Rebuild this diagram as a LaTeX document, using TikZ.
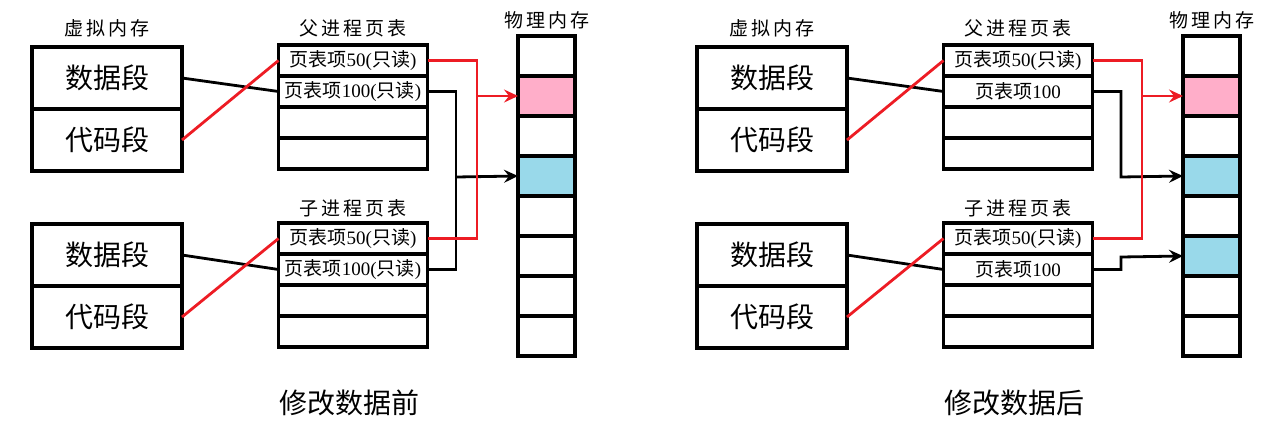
\documentclass[tikz,border=0pt]{standalone}
\usepackage{fontspec}
\setmainfont{Liberation Serif}
\newfontfamily\cjk{Noto Sans CJK SC}
\usetikzlibrary{arrows.meta,positioning}
\definecolor{ptred}{HTML}{ED1C24}
\definecolor{ptpink}{HTML}{FFAEC9}
\definecolor{ptblue}{HTML}{99D9EA}
\newcommand{\cjksize}[1]{\cjk\fontsize{#1}{#1}\selectfont}

\begin{document}
\begin{tikzpicture}[x=1pt,y=-1pt,
  box/.style={draw,line width=3.6pt,minimum width=150pt,minimum height=62pt,inner sep=0pt,outer sep=0pt,font=\cjksize{28}},
  pte/.style={draw,line width=3.6pt,minimum width=149pt,minimum height=31pt,inner sep=0pt,outer sep=0pt,font=\fontsize{19}{19}\selectfont},
  cell/.style={draw,line width=3.6pt,minimum width=57pt,minimum height=40pt,inner sep=0pt,outer sep=0pt},
  title/.style={font=\cjksize{19}\addfontfeature{LetterSpace=15}},
  link/.style={line width=2.8pt},
  tip/.style={-{Stealth[length=14pt,width=13pt,inset=5pt]}}]
  \useasboundingbox (0,0) rectangle (1269,429);

  \foreach \p/\dx/\six/\tail/\when in {a/0/white/{({\cjk 只读})}/修改数据前,b/665/ptblue/{}/修改数据后} {
    % Virtual memory
    \node[title] (\p-vm) at (\dx+107,28) {虚拟内存};
    \node[box] (\p-pd) at (\dx+107,78) {数据段};
    \node[box,below=0pt of \p-pd] (\p-pc) {代码段};
    \node[box] (\p-cd) at (\dx+107,255) {数据段};
    \node[box,below=0pt of \p-cd] (\p-cc) {代码段};

    % Parent page table
    \node[title] (\p-pt) at (\dx+353,28) {父进程页表};
    \node[pte] (\p-p1) at (\dx+353,60.5) {{\cjk 页表项}50({\cjk 只读})};
    \node[pte,below=0pt of \p-p1] (\p-p2) {{\cjk 页表项}100\tail};
    \node[pte,below=0pt of \p-p2] (\p-p3) {};
    \node[pte,below=0pt of \p-p3] (\p-p4) {};

    % Child page table
    \node[title] (\p-ct) at (\dx+353,208) {子进程页表};
    \node[pte] (\p-c1) at (\dx+353,238.5) {{\cjk 页表项}50({\cjk 只读})};
    \node[pte,below=0pt of \p-c1] (\p-c2) {{\cjk 页表项}100\tail};
    \node[pte,below=0pt of \p-c2] (\p-c3) {};
    \node[pte,below=0pt of \p-c3] (\p-c4) {};

    % Physical memory
    \node[title] (\p-pm) at (\dx+547,20) {物理内存};
    \foreach \k/\c in {1/white,2/ptpink,3/white,4/ptblue,5/white,6/\six,7/white,8/white}
      \node[cell,fill=\c] (\p-m\k) at (\dx+546.5,16+40*\k) {};

    \node[font=\cjksize{28}] (\p-cap) at (\dx+349,403) {\when};

    % Segments to page table entries
    \draw[link] (\p-pd.east) -- (\p-p2.west);
    \draw[link] (\p-cd.east) -- (\p-c2.west);
    \draw[link,ptred] (\p-pc.east) -- (\p-p1.west);
    \draw[link,ptred] (\p-cc.east) -- (\p-c1.west);
  }

  % Before: both data entries share one frame
  \coordinate (a-bj) at (456,177);
  \draw[link] (a-p2.east) -| (a-bj) |- (a-c2.east);
  \draw[link,tip] (a-bj) -- (a-m4.west);

  % After: child gets its own copy
  \coordinate (b-bj) at (1121,177);
  \coordinate (b-bk) at (1121,257);
  \draw[link,tip] (b-p2.east) -| (b-bj) -- (b-m4.west);
  \draw[link,tip] (b-c2.east) -| (b-bk) -- (b-m6.west);

  % Shared read-only code frame
  \foreach \p/\dx in {a/0,b/665} {
    \coordinate (\p-rj) at (\dx+477,96);
    \draw[link,ptred] (\p-p1.east) -| (\p-rj) |- (\p-c1.east);
    \draw[link,ptred,tip] (\p-rj) -- (\p-m2.west);
  }
\end{tikzpicture}
\end{document}
